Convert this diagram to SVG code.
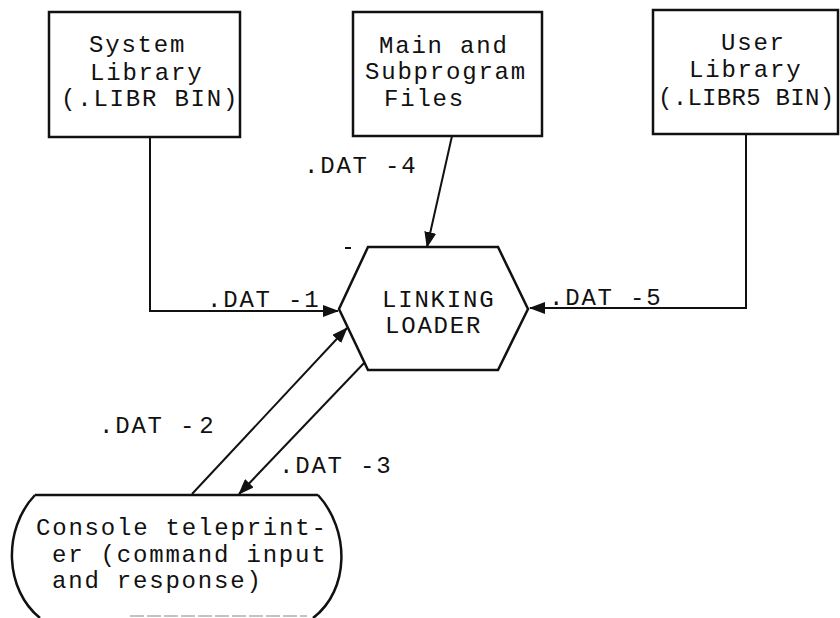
<svg xmlns="http://www.w3.org/2000/svg" width="840" height="618" viewBox="0 0 840 618">
<style>
.box{fill:#fff;stroke:#111;stroke-width:2.5}
.t{font-family:"Liberation Mono","Courier New",monospace;font-size:24px;letter-spacing:1.8px;fill:#111}
.c{fill:none;stroke:#111;stroke-width:2}
</style>
<defs>
<marker id="ah" markerUnits="userSpaceOnUse" markerWidth="16" markerHeight="12" refX="15" refY="6" orient="auto">
<path d="M0,0 L16,6 L0,12 z" fill="#111"/>
</marker>
</defs>
<rect width="840" height="618" fill="#fff"/>
<g id="connectors">
<polyline class="c" points="150,137 150,311 338,311" marker-end="url(#ah)"/>
<polyline class="c" points="746,134 746,308 530,308" marker-end="url(#ah)"/>
<line class="c" x1="452" y1="136" x2="427" y2="247" marker-end="url(#ah)"/>
<line class="c" x1="192" y1="494" x2="347" y2="328" marker-end="url(#ah)"/>
<line class="c" x1="365" y1="362" x2="239" y2="494" marker-end="url(#ah)"/>
<text class="t" x="304" y="173">.DAT -4</text>
<text class="t" x="207" y="307">.DAT -1</text>
<text class="t" x="549" y="305">.DAT -5</text>
<text class="t" x="99" y="433">.DAT -<tspan dx="3">2</tspan></text>
<text class="t" x="279" y="473">.DAT -3</text>
<line x1="345" y1="248" x2="351" y2="248" stroke="#111" stroke-width="2"/>
</g>
<g id="system-library">
<rect class="box" x="49" y="12" width="191" height="125"/>
<text class="t" x="89" y="52">System</text>
<text class="t" x="90" y="80">Library</text>
<text class="t" x="61" y="106">(.LIBR BIN)</text>
</g>
<g id="main-files">
<rect class="box" x="353" y="12" width="189" height="124"/>
<text class="t" x="379" y="53">Main and</text>
<text class="t" x="365" y="79">Subprogram</text>
<text class="t" x="384" y="106">Files</text>
</g>
<g id="user-library">
<rect class="box" x="653" y="10" width="185" height="124"/>
<text class="t" x="721" y="50">User</text>
<text class="t" x="689" y="77">Library</text>
<text class="t" x="658" y="105" style="letter-spacing:0.3px">(.LIBR5 BIN)</text>
</g>
<g id="linking-loader">
<polygon class="box" points="368,247 498,247 528,309 498,370 368,370 339,309"/>
<text class="t" x="382" y="307">LINKING</text>
<text class="t" x="385" y="333">LOADER</text>
</g>
<g id="console">
<path class="box" d="M318,495 C350,530 350,590 313,618 M35,495 C2,530 5,590 40,618 M35,495 L318,495"/>
<line x1="130" y1="616" x2="307" y2="616" stroke="#888" stroke-width="1.2" stroke-dasharray="14,3"/>
<text class="t" x="36" y="535">Console teleprint-</text>
<text class="t" x="52" y="562">er (command input</text>
<text class="t" x="52" y="588">and response)</text>
</g>
</svg>
